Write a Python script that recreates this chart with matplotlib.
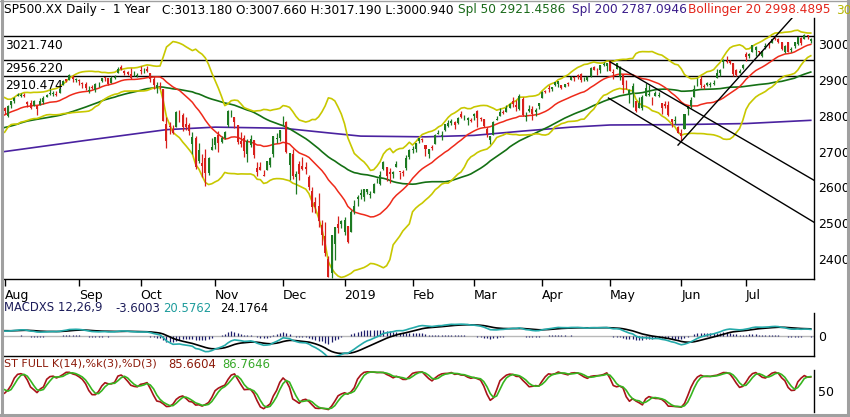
import numpy as np
import matplotlib
matplotlib.use('Agg')
import matplotlib.pyplot as plt

# ---------------- data ----------------
month_labels = ['Aug', 'Sep', 'Oct', 'Nov', 'Dec', '2019', 'Feb', 'Mar', 'Apr', 'May', 'Jun', 'Jul']
month_days = [23, 19, 23, 21, 19, 21, 19, 21, 21, 22, 20, 21]

# closes before the visible window (May-Jul 2018), used for indicator warm-up
warm_close = [
    2654.80, 2635.67, 2629.73, 2663.42, 2672.63, 2671.92, 2697.79, 2723.07, 2727.72, 2730.13, 2711.45,
    2722.46, 2720.13, 2712.97, 2733.01, 2724.44, 2733.29, 2727.76, 2721.33, 2689.86, 2724.01, 2705.27,
    2734.62, 2746.87, 2748.80, 2772.35, 2770.37, 2779.03, 2782.00, 2786.85, 2775.63, 2782.49, 2779.66,
    2773.75, 2762.59, 2767.32, 2749.76, 2754.88, 2717.07, 2723.06, 2699.63, 2716.31, 2718.37,
    2726.71, 2713.22, 2736.61, 2759.82, 2784.17, 2793.84, 2774.02, 2798.29, 2801.31, 2798.43, 2809.55,
    2815.62, 2804.49, 2801.83, 2806.98, 2820.40, 2846.07, 2837.44, 2818.82, 2802.60, 2816.29]
warm_high = [2727, 2729, 2737, 2764, 2784, 2796, 2785, 2799, 2804, 2804, 2814, 2816, 2812, 2810, 2809,
             2829, 2848, 2843, 2843, 2821, 2825]
warm_low = [2699, 2712, 2719, 2733, 2767, 2786, 2770, 2784, 2791, 2794, 2789, 2806, 2796, 2795, 2795,
            2811, 2812, 2836, 2808, 2799, 2805]

opens = [
    2821, 2800, 2829, 2840, 2855, 2856, 2857, 2838, 2835, 2827, 2827, 2831, 2838, 2853, 2861, 2861, 2860, 2862, 2884, 2901, 2900, 2908, 2898,
    2897, 2892, 2889, 2869, 2881, 2871, 2888, 2896, 2906, 2904, 2891, 2906, 2919, 2936, 2925, 2921, 2917, 2912, 2911,
    2927, 2923, 2931, 2919, 2902, 2878, 2882, 2874, 2777, 2771, 2763, 2767, 2811, 2802, 2776, 2774, 2721, 2737, 2674, 2667, 2682, 2641, 2705,
    2717, 2745, 2726, 2738, 2775, 2806, 2795, 2773, 2730, 2737, 2693, 2718, 2731, 2654, 2657, 2633, 2649, 2663, 2692, 2736, 2738,
    2790, 2783, 2663, 2692, 2630, 2664, 2659, 2658, 2629, 2591, 2559, 2548, 2496, 2466, 2401, 2363, 2442, 2498, 2499,
    2477, 2492, 2475, 2535, 2568, 2580, 2573, 2588, 2580, 2585, 2614, 2609, 2651, 2657, 2643, 2638, 2657, 2644, 2644, 2654, 2685,
    2703, 2706, 2728, 2736, 2717, 2693, 2713, 2722, 2750, 2744, 2760, 2770, 2780, 2781, 2780, 2805, 2793, 2787, 2789,
    2798, 2814, 2794, 2791, 2764, 2731, 2747, 2788, 2799, 2810, 2811, 2822, 2841, 2831, 2819, 2845, 2797, 2812, 2819, 2810, 2828,
    2848, 2868, 2877, 2874, 2884, 2888, 2886, 2881, 2892, 2900, 2908, 2912, 2916, 2904, 2898, 2910, 2935, 2928, 2926, 2941, 2938,
    2953, 2922, 2930, 2908, 2913, 2880, 2859, 2863, 2840, 2820, 2820, 2855, 2858, 2841, 2854, 2856, 2836, 2832, 2830, 2790, 2786, 2767,
    2752, 2763, 2819, 2828, 2853, 2885, 2903, 2882, 2886, 2886, 2889, 2906, 2920, 2949, 2952, 2951, 2946, 2926, 2919, 2932,
    2971, 2965, 2978, 2984, 2980, 2966, 2990, 3003, 3003, 3017, 3013, 3006, 2978, 3004, 2982, 2995, 2999, 3017, 3013, 3024, 3008]
highs = [
    2825, 2829, 2841, 2853, 2863, 2862, 2862, 2842, 2843, 2843, 2827, 2850, 2855, 2860, 2873, 2868, 2868, 2876, 2898, 2903, 2916, 2912, 2906,
    2901, 2894, 2893, 2883, 2886, 2892, 2894, 2906, 2908, 2905, 2911, 2912, 2935, 2941, 2927, 2924, 2932, 2924, 2920,
    2937, 2932, 2939, 2919, 2910, 2894, 2894, 2874, 2796, 2783, 2775, 2813, 2816, 2807, 2797, 2779, 2754, 2743, 2723, 2693, 2707, 2686, 2737,
    2741, 2756, 2744, 2757, 2815, 2815, 2796, 2775, 2754, 2747, 2735, 2747, 2733, 2671, 2670, 2648, 2675, 2685, 2744, 2753, 2760,
    2800, 2785, 2697, 2708, 2647, 2674, 2685, 2671, 2635, 2601, 2573, 2585, 2510, 2504, 2410, 2467, 2489, 2520, 2510,
    2519, 2493, 2538, 2566, 2580, 2596, 2597, 2597, 2590, 2613, 2625, 2645, 2675, 2658, 2653, 2647, 2673, 2644, 2650, 2690, 2708,
    2716, 2725, 2738, 2739, 2719, 2708, 2718, 2749, 2761, 2757, 2776, 2787, 2790, 2785, 2795, 2814, 2803, 2796, 2793,
    2808, 2817, 2796, 2791, 2767, 2744, 2785, 2798, 2821, 2815, 2830, 2836, 2852, 2843, 2860, 2852, 2809, 2829, 2826, 2820, 2836,
    2869, 2872, 2886, 2881, 2893, 2895, 2886, 2889, 2893, 2910, 2909, 2916, 2918, 2909, 2910, 2936, 2937, 2933, 2940, 2949, 2948,
    2954, 2931, 2947, 2937, 2913, 2898, 2875, 2891, 2841, 2852, 2858, 2892, 2886, 2853, 2868, 2865, 2836, 2841, 2841, 2790, 2799, 2772,
    2764, 2804, 2827, 2852, 2884, 2904, 2910, 2888, 2895, 2894, 2898, 2931, 2931, 2958, 2965, 2955, 2947, 2929, 2929, 2943,
    2978, 2974, 2996, 2994, 2981, 2981, 3003, 3004, 3014, 3018, 3016, 3006, 2998, 3006, 2990, 3006, 3020, 3018, 3028, 3026, 3017]
lows = [
    2805, 2796, 2822, 2835, 2855, 2853, 2852, 2825, 2819, 2826, 2802, 2831, 2833, 2851, 2857, 2856, 2855, 2862, 2884, 2894, 2898, 2895, 2893,
    2885, 2876, 2871, 2864, 2875, 2867, 2879, 2895, 2896, 2886, 2890, 2903, 2919, 2927, 2913, 2913, 2903, 2910, 2907,
    2917, 2919, 2921, 2893, 2874, 2862, 2875, 2784, 2710, 2749, 2749, 2767, 2781, 2756, 2760, 2745, 2692, 2651, 2667, 2628, 2604, 2636, 2705,
    2706, 2700, 2723, 2735, 2767, 2795, 2766, 2722, 2714, 2686, 2670, 2712, 2681, 2632, 2649, 2631, 2649, 2656, 2684, 2723, 2730,
    2774, 2697, 2621, 2623, 2583, 2621, 2650, 2637, 2593, 2531, 2528, 2489, 2441, 2408, 2351, 2347, 2397, 2473, 2487,
    2467, 2444, 2475, 2525, 2547, 2568, 2562, 2581, 2570, 2585, 2612, 2606, 2648, 2617, 2612, 2627, 2657, 2624, 2631, 2648, 2678,
    2697, 2700, 2725, 2727, 2687, 2681, 2704, 2722, 2749, 2733, 2757, 2767, 2774, 2764, 2776, 2794, 2789, 2775, 2782,
    2787, 2767, 2785, 2769, 2740, 2722, 2747, 2787, 2799, 2804, 2810, 2821, 2823, 2812, 2817, 2800, 2785, 2809, 2788, 2799, 2819,
    2848, 2862, 2865, 2868, 2882, 2881, 2873, 2879, 2882, 2898, 2897, 2901, 2895, 2897, 2896, 2909, 2927, 2913, 2918, 2939, 2924,
    2923, 2901, 2929, 2900, 2862, 2874, 2836, 2825, 2811, 2820, 2816, 2855, 2855, 2831, 2854, 2851, 2805, 2821, 2800, 2767, 2777, 2751,
    2729, 2763, 2801, 2822, 2852, 2883, 2878, 2874, 2882, 2880, 2886, 2905, 2911, 2932, 2947, 2944, 2911, 2910, 2918, 2929,
    2953, 2960, 2978, 2967, 2970, 2964, 2985, 2989, 3001, 3011, 3003, 2984, 2974, 2976, 2977, 2989, 2997, 2996, 3013, 3014, 3001]
closes = [
    2813.36, 2827.22, 2840.35, 2850.40, 2858.45, 2857.70, 2853.58, 2833.28, 2821.93, 2839.96, 2818.37, 2840.69, 2850.13, 2857.05, 2862.96, 2861.82, 2856.98, 2874.69, 2896.74, 2897.52, 2914.04, 2901.13, 2901.52,
    2896.72, 2888.60, 2878.05, 2871.68, 2877.13, 2887.89, 2888.92, 2904.18, 2904.98, 2888.80, 2904.31, 2907.95, 2930.75, 2929.67, 2919.37, 2915.56, 2905.97, 2914.00, 2913.98,
    2924.59, 2923.43, 2925.51, 2901.61, 2885.57, 2884.43, 2880.34, 2785.68, 2728.37, 2767.13, 2750.79, 2809.92, 2809.21, 2768.78, 2767.78, 2755.88, 2740.69, 2656.10, 2705.57, 2658.69, 2641.25, 2682.63, 2711.74,
    2740.37, 2723.06, 2738.31, 2755.45, 2813.89, 2806.83, 2781.01, 2726.22, 2722.18, 2701.58, 2730.20, 2736.27, 2690.73, 2641.89, 2649.93, 2632.56, 2673.45, 2682.17, 2743.79, 2737.80, 2760.17,
    2790.37, 2700.06, 2695.95, 2633.08, 2637.72, 2636.78, 2651.07, 2650.54, 2599.95, 2545.94, 2546.16, 2506.96, 2467.42, 2416.62, 2351.10, 2467.70, 2488.83, 2485.74, 2506.85,
    2510.03, 2447.89, 2531.94, 2549.69, 2574.41, 2584.96, 2596.64, 2596.26, 2582.61, 2610.30, 2616.10, 2635.96, 2670.71, 2632.90, 2638.70, 2642.33, 2664.76, 2643.85, 2640.00, 2681.05, 2704.10,
    2706.53, 2724.87, 2737.70, 2731.61, 2706.05, 2707.88, 2709.80, 2744.73, 2753.03, 2745.73, 2775.60, 2779.76, 2784.70, 2774.88, 2792.67, 2796.11, 2793.90, 2792.38, 2784.49,
    2803.69, 2792.81, 2789.65, 2771.45, 2748.93, 2743.07, 2783.30, 2791.52, 2810.92, 2808.48, 2822.48, 2832.94, 2832.57, 2824.23, 2854.88, 2800.71, 2798.36, 2818.46, 2805.37, 2815.44, 2834.40,
    2867.19, 2867.24, 2873.40, 2879.39, 2892.74, 2895.77, 2878.20, 2888.21, 2888.32, 2907.41, 2905.58, 2907.06, 2900.45, 2905.03, 2907.97, 2933.68, 2927.25, 2926.17, 2939.88, 2943.03, 2945.83,
    2923.73, 2917.52, 2945.64, 2932.47, 2884.05, 2879.42, 2870.72, 2881.40, 2811.87, 2834.41, 2850.96, 2876.32, 2859.53, 2840.23, 2864.36, 2856.27, 2822.24, 2826.06, 2802.39, 2783.02, 2788.86, 2752.06,
    2744.45, 2803.27, 2826.15, 2843.49, 2873.34, 2886.73, 2885.72, 2879.84, 2891.64, 2886.98, 2889.67, 2917.75, 2926.46, 2954.18, 2950.46, 2945.35, 2917.38, 2913.78, 2924.92, 2941.76,
    2964.33, 2973.01, 2995.82, 2990.41, 2975.95, 2979.63, 2993.07, 2999.91, 3013.77, 3014.30, 3004.04, 2984.42, 2995.11, 2976.61, 2985.03, 3005.47, 3019.56, 3003.67, 3025.86, 3020.97, 3013.18]

# 200-day simple average (bar index, value)
spl200_idx = [0, 25, 50, 65, 86, 100, 110, 130, 145, 160, 175, 187, 208, 229, 249]
spl200_val = [2700, 2731, 2761, 2768, 2765, 2752, 2743, 2741, 2745, 2757, 2768, 2774, 2775, 2778, 2787]

levels = [3021.740, 2956.220, 2910.474]
# trend lines: (bar index, price) end points
trend_lines = [
    ([187, 250], [2950, 2620]),
    ([186.5, 250], [2849, 2503]),
    ([208, 246], [2718, 3100]),
]

# ---------------- indicators ----------------
o = np.array(opens, float); h = np.array(highs, float)
l = np.array(lows, float); c = np.array(closes, float)
n = len(c)
nw = len(warm_close)
call = np.concatenate([warm_close, c])


def sma(a, p):
    out = np.full(len(a), np.nan)
    for i in range(p - 1, len(a)):
        out[i] = a[i - p + 1:i + 1].mean()
    return out


def rstd(a, p):
    out = np.full(len(a), np.nan)
    for i in range(p - 1, len(a)):
        out[i] = a[i - p + 1:i + 1].std()
    return out


def ema(a, span):
    k = 2.0 / (span + 1)
    out = np.empty(len(a)); out[0] = a[0]
    for i in range(1, len(a)):
        out[i] = a[i] * k + out[i - 1] * (1 - k)
    return out


sma50 = sma(call, 50)[nw:]
mid = sma(call, 20)
sd = rstd(call, 20)
bb_mid = mid[nw:]
bb_up = (mid + 2 * sd)[nw:]
bb_lo = (mid - 2 * sd)[nw:]

macd = ema(call, 12) - ema(call, 26)
sig = ema(macd, 9)
macd = macd[nw:]; sig = sig[nw:]
hist = macd - sig

nh = len(warm_high)
hh = np.concatenate([warm_high, h]); ll = np.concatenate([warm_low, l])
cc = call[nw - nh:]
raw = np.full(len(cc), np.nan)
for i in range(13, len(cc)):
    hi = hh[i - 13:i + 1].max(); lo = ll[i - 13:i + 1].min()
    raw[i] = (cc[i] - lo) / (hi - lo) * 100
k_s = sma(raw, 3)
d_s = sma(k_s, 3)
k_s = k_s[nh:]; d_s = d_s[nh:]

x = np.arange(n)

# ---------------- figure ----------------
W, H = 850, 417
plt.rcParams['font.family'] = 'DejaVu Sans'
fig = plt.figure(figsize=(W / 100, H / 100), dpi=100)


def rect(lft, top, rgt, bot):
    return [lft / W, 1 - bot / H, (rgt - lft) / W, (bot - top) / H]


XL = (-0.5, 250.0)
ax = fig.add_axes(rect(3, 18, 814, 279))
axm = fig.add_axes(rect(3, 313, 814, 356))
axs = fig.add_axes(rect(3, 370, 814, 412))

for a in (ax, axm, axs):
    a.set_xlim(*XL)
    a.set_facecolor('white')
    for s in ('top', 'left'):
        a.spines[s].set_visible(False)
    a.spines['right'].set_color('black')
    a.spines['right'].set_linewidth(1.0)
    a.yaxis.tick_right()
    a.tick_params(axis='y', length=0, pad=3, labelsize=9, colors='black')

# main price panel
ax.set_ylim(2345, 3072)
ax.spines['bottom'].set_linewidth(1.0)
for lv in levels:
    ax.axhline(lv, color='black', lw=1.0, zorder=2)
    ax.annotate(f'{lv:.3f}', xy=(0.003, lv), xycoords=('axes fraction', 'data'),
                xytext=(0, -2), textcoords='offset points', va='top', ha='left',
                fontsize=8.7, color='black', zorder=6)

ax.plot(spl200_idx, spl200_val, color='#4a22a0', lw=1.2, zorder=3)
ax.plot(x, sma50, color='#147014', lw=1.2, zorder=3)
ax.plot(x, bb_up, color='#c8c800', lw=1.2, zorder=3)
ax.plot(x, bb_lo, color='#c8c800', lw=1.2, zorder=3)
ax.plot(x, bb_mid, color='#ee2a1a', lw=1.1, zorder=3)

up = c >= o
col = np.where(up, '#1d7a22', '#d8201c')
ax.vlines(x, l, h, colors=col, lw=0.9, zorder=4)
body = np.maximum(np.abs(c - o), 1.5)
ax.bar(x, body, bottom=np.minimum(o, c), width=0.62, color=col, linewidth=0, zorder=5)

for tx, ty in trend_lines:
    ax.plot(tx, ty, color='black', lw=1.0, zorder=6)

ax.set_yticks([2400, 2500, 2600, 2700, 2800, 2900, 3000])
ax.set_yticklabels(['2400', '2500', '2600', '2700', '2800', '2900', '3000'])

ticks = np.concatenate([[0], np.cumsum(month_days)[:-1]])
ax.set_xticks(ticks)
ax.set_xticklabels(month_labels, fontsize=9)
for t in ax.get_xticklabels():
    t.set_horizontalalignment('left')
ax.tick_params(axis='x', direction='out', length=5, width=1, pad=2, colors='black')

# MACD panel
axm.set_ylim(-71, 82)
axm.axhline(0, color='#b8b8b8', lw=1.0, zorder=1)
axm.vlines(x, 0, hist, colors='#1c1c6a', lw=0.9, zorder=2)
axm.plot(x, sig, color='black', lw=1.2, zorder=3)
axm.plot(x, macd, color='#25aaaa', lw=1.2, zorder=4)
axm.set_xticks([])
axm.set_yticks([0])
axm.set_yticklabels(['0'])
axm.spines['bottom'].set_linewidth(1.0)

# Stochastic panel
axs.set_ylim(-3, 103)
axs.plot(x, k_s, color='#a8141a', lw=1.2, zorder=3)
axs.plot(x, d_s, color='#36b520', lw=1.2, zorder=4)
axs.set_xticks([])
axs.set_yticks([50])
axs.set_yticklabels(['50'])
axs.spines['bottom'].set_visible(False)


def ftext(px, py, s, color, size=8.7):
    fig.text(px / W, 1 - py / H, s, color=color, fontsize=size, ha='left', va='center')


# header
ftext(4, 10, 'SP500.XX Daily -  1 Year', 'black')
ftext(162, 10, 'C:3013.180 O:3007.660 H:3017.190 L:3000.940', 'black')
ftext(458, 10, 'Spl 50 2921.4586', '#1a6a1a')
ftext(572, 10, 'Spl 200 2787.0946', '#3a1c8a')
ftext(688, 10, 'Bollinger 20 2998.4895', '#e3261c')
ftext(836, 10, '30', '#b5b500')

ftext(4, 308, 'MACDXS 12,26,9', '#1c1c5a', 8.4)
ftext(115, 308, '-3.6003', '#1c1c5a', 8.4)
ftext(163, 308, '20.5762', '#1e9c9c', 8.4)
ftext(220, 308, '24.1764', 'black', 8.4)

ftext(4, 364, 'ST FULL K(14),%k(3),%D(3)', '#8c1a0a', 8.0)
ftext(168, 364, '85.6604', '#8c1a0a', 8.4)
ftext(222, 364, '86.7646', '#36a828', 8.4)

# outer frame
frame = dict(color='#a0a0a0', transform=fig.transFigure, clip_on=False)
fig.add_artist(plt.Line2D([1.5 / W, 1.5 / W], [0, 1], lw=2.2, **frame))
fig.add_artist(plt.Line2D([848 / W, 848 / W], [0, 1], lw=2.2, **frame))
fig.add_artist(plt.Line2D([0, 1], [1 - 414.5 / H, 1 - 414.5 / H], lw=2.2, **frame))
fig.add_artist(plt.Line2D([0, 1], [1 - 0.5 / H, 1 - 0.5 / H], lw=1.0, **frame))

fig.savefig('out.png', dpi=100, facecolor='white')
